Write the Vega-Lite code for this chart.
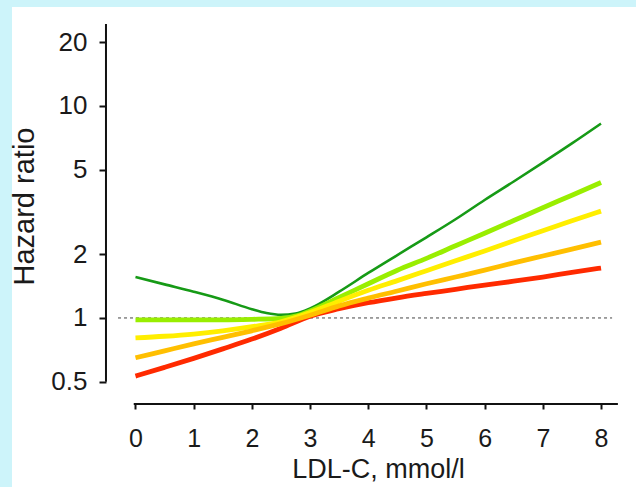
{
  "$schema": "https://vega.github.io/schema/vega-lite/v6.json",
  "width": 624,
  "height": 480,
  "autosize": {"type": "none"},
  "padding": {"left": 12, "top": 7, "right": 0, "bottom": 0},
  "background": "#cdf4fa",
  "config": {
    "view": {"stroke": null, "fill": "white"},
    "font": "Liberation Sans",
    "axis": {
      "domain": false,
      "grid": false,
      "tickWidth": 2,
      "tickColor": "#111111",
      "labelColor": "#1a1a1a",
      "labelFont": "Liberation Sans",
      "labelFlush": false,
      "labelOverlap": false,
      "titleFont": "Liberation Sans",
      "titleFontWeight": "normal",
      "titleColor": "#1a1a1a",
      "format": "~g"
    },
    "axisX": {
      "offset": -83,
      "tickSize": 5,
      "labelFontSize": 25,
      "labelPadding": 37,
      "labelBaseline": "alphabetic",
      "titleFontSize": 27,
      "titleX": 366,
      "titleY": 73,
      "titleAlign": "center",
      "titleBaseline": "alphabetic"
    },
    "axisY": {
      "offset": -94,
      "tickSize": 7,
      "labelFontSize": 26,
      "labelPadding": 12,
      "titleFontSize": 29,
      "titleAngle": -90,
      "titleX": -82,
      "titleY": 199,
      "titleAlign": "center",
      "titleBaseline": "middle"
    }
  },
  "datasets": {
    "curves": [
      {"series": "A", "ldl": 0, "hr": 1.56}, {"series": "A", "ldl": 0.5, "hr": 1.44}, {"series": "A", "ldl": 1, "hr": 1.33}, {"series": "A", "ldl": 1.5, "hr": 1.22}, {"series": "A", "ldl": 2, "hr": 1.1}, {"series": "A", "ldl": 2.25, "hr": 1.055}, {"series": "A", "ldl": 2.5, "hr": 1.035}, {"series": "A", "ldl": 2.75, "hr": 1.05}, {"series": "A", "ldl": 3, "hr": 1.11}, {"series": "A", "ldl": 3.5, "hr": 1.33}, {"series": "A", "ldl": 4, "hr": 1.63}, {"series": "A", "ldl": 4.5, "hr": 1.98}, {"series": "A", "ldl": 5, "hr": 2.4}, {"series": "A", "ldl": 5.5, "hr": 2.92}, {"series": "A", "ldl": 6, "hr": 3.6}, {"series": "A", "ldl": 6.5, "hr": 4.4}, {"series": "A", "ldl": 7, "hr": 5.4}, {"series": "A", "ldl": 7.5, "hr": 6.65}, {"series": "A", "ldl": 8, "hr": 8.25},
      {"series": "B", "ldl": 0, "hr": 0.532}, {"series": "B", "ldl": 0.5, "hr": 0.585}, {"series": "B", "ldl": 1, "hr": 0.645}, {"series": "B", "ldl": 1.5, "hr": 0.715}, {"series": "B", "ldl": 2, "hr": 0.795}, {"series": "B", "ldl": 2.5, "hr": 0.895}, {"series": "B", "ldl": 3, "hr": 1.02}, {"series": "B", "ldl": 3.5, "hr": 1.105}, {"series": "B", "ldl": 4, "hr": 1.18}, {"series": "B", "ldl": 4.5, "hr": 1.245}, {"series": "B", "ldl": 5, "hr": 1.305}, {"series": "B", "ldl": 5.5, "hr": 1.365}, {"series": "B", "ldl": 6, "hr": 1.43}, {"series": "B", "ldl": 6.5, "hr": 1.49}, {"series": "B", "ldl": 7, "hr": 1.56}, {"series": "B", "ldl": 7.5, "hr": 1.64}, {"series": "B", "ldl": 8, "hr": 1.72},
      {"series": "C", "ldl": 0, "hr": 0.98}, {"series": "C", "ldl": 0.5, "hr": 0.98}, {"series": "C", "ldl": 1, "hr": 0.98}, {"series": "C", "ldl": 1.5, "hr": 0.98}, {"series": "C", "ldl": 2, "hr": 0.985}, {"series": "C", "ldl": 2.5, "hr": 0.995}, {"series": "C", "ldl": 2.75, "hr": 1.02}, {"series": "C", "ldl": 3, "hr": 1.08}, {"series": "C", "ldl": 3.5, "hr": 1.25}, {"series": "C", "ldl": 4, "hr": 1.45}, {"series": "C", "ldl": 4.5, "hr": 1.68}, {"series": "C", "ldl": 5, "hr": 1.91}, {"series": "C", "ldl": 5.5, "hr": 2.19}, {"series": "C", "ldl": 6, "hr": 2.51}, {"series": "C", "ldl": 6.5, "hr": 2.88}, {"series": "C", "ldl": 7, "hr": 3.31}, {"series": "C", "ldl": 7.5, "hr": 3.79}, {"series": "C", "ldl": 8, "hr": 4.35},
      {"series": "D", "ldl": 0, "hr": 0.806}, {"series": "D", "ldl": 0.5, "hr": 0.82}, {"series": "D", "ldl": 1, "hr": 0.84}, {"series": "D", "ldl": 1.5, "hr": 0.87}, {"series": "D", "ldl": 2, "hr": 0.91}, {"series": "D", "ldl": 2.5, "hr": 0.96}, {"series": "D", "ldl": 3, "hr": 1.06}, {"series": "D", "ldl": 3.5, "hr": 1.2}, {"series": "D", "ldl": 4, "hr": 1.35}, {"series": "D", "ldl": 4.5, "hr": 1.5}, {"series": "D", "ldl": 5, "hr": 1.67}, {"series": "D", "ldl": 5.5, "hr": 1.86}, {"series": "D", "ldl": 6, "hr": 2.07}, {"series": "D", "ldl": 6.5, "hr": 2.31}, {"series": "D", "ldl": 7, "hr": 2.58}, {"series": "D", "ldl": 7.5, "hr": 2.87}, {"series": "D", "ldl": 8, "hr": 3.19},
      {"series": "E", "ldl": 0, "hr": 0.649}, {"series": "E", "ldl": 0.5, "hr": 0.7}, {"series": "E", "ldl": 1, "hr": 0.755}, {"series": "E", "ldl": 1.5, "hr": 0.81}, {"series": "E", "ldl": 2, "hr": 0.87}, {"series": "E", "ldl": 2.5, "hr": 0.94}, {"series": "E", "ldl": 3, "hr": 1.03}, {"series": "E", "ldl": 3.5, "hr": 1.14}, {"series": "E", "ldl": 4, "hr": 1.24}, {"series": "E", "ldl": 4.5, "hr": 1.34}, {"series": "E", "ldl": 5, "hr": 1.45}, {"series": "E", "ldl": 5.5, "hr": 1.56}, {"series": "E", "ldl": 6, "hr": 1.68}, {"series": "E", "ldl": 6.5, "hr": 1.82}, {"series": "E", "ldl": 7, "hr": 1.96}, {"series": "E", "ldl": 7.5, "hr": 2.11}, {"series": "E", "ldl": 8, "hr": 2.28}
    ]
  },
  "layer": [
    {
      "data": {"values": [{}]},
      "mark": {"type": "rule", "strokeDash": [3, 3], "color": "#444444", "strokeWidth": 1},
      "encoding": {
        "x": {"datum": -0.3, "type": "quantitative"},
        "x2": {"datum": 8.19},
        "y": {"datum": 1, "type": "quantitative"}
      }
    },
    {
      "data": {"values": [{}]},
      "mark": {"type": "rule", "color": "#111111", "strokeWidth": 2},
      "encoding": {
        "x": {"datum": -0.507, "type": "quantitative"},
        "y": {"datum": 0.5, "type": "quantitative"},
        "y2": {"datum": 24.3}
      }
    },
    {
      "data": {"values": [{}]},
      "mark": {"type": "rule", "color": "#111111", "strokeWidth": 2},
      "encoding": {
        "x": {"datum": -0.03, "type": "quantitative"},
        "x2": {"datum": 8.29},
        "y": {"datum": 0.3928, "type": "quantitative"}
      }
    },
    {
      "data": {"name": "curves"},
      "transform": [{"filter": "datum.series == 'A'"}],
      "mark": {"type": "line", "interpolate": "monotone", "color": "#169a16", "strokeWidth": 2.6},
      "encoding": {
        "x": {"field": "ldl", "type": "quantitative"},
        "y": {"field": "hr", "type": "quantitative"}
      }
    },
    {
      "data": {"name": "curves"},
      "transform": [{"filter": "datum.series != 'A'"}],
      "mark": {"type": "line", "interpolate": "monotone", "strokeWidth": 4.8},
      "encoding": {
        "x": {
          "field": "ldl", "type": "quantitative",
          "scale": {"domain": [-2.122, 8.601], "nice": false, "zero": false},
          "axis": {"values": [0, 1, 2, 3, 4, 5, 6, 7, 8], "title": "LDL-C, mmol/l"}
        },
        "y": {
          "field": "hr", "type": "quantitative",
          "scale": {"type": "log", "domain": [0.1596, 29.25], "nice": false, "zero": false},
          "axis": {"values": [0.5, 1, 2, 5, 10, 20], "title": "Hazard ratio"}
        },
        "color": {
          "field": "series", "type": "nominal",
          "scale": {"domain": ["B", "C", "D", "E"], "range": ["#ff2a00", "#99ee00", "#ffee00", "#ffbf00"]},
          "legend": null
        }
      }
    }
  ]
}
